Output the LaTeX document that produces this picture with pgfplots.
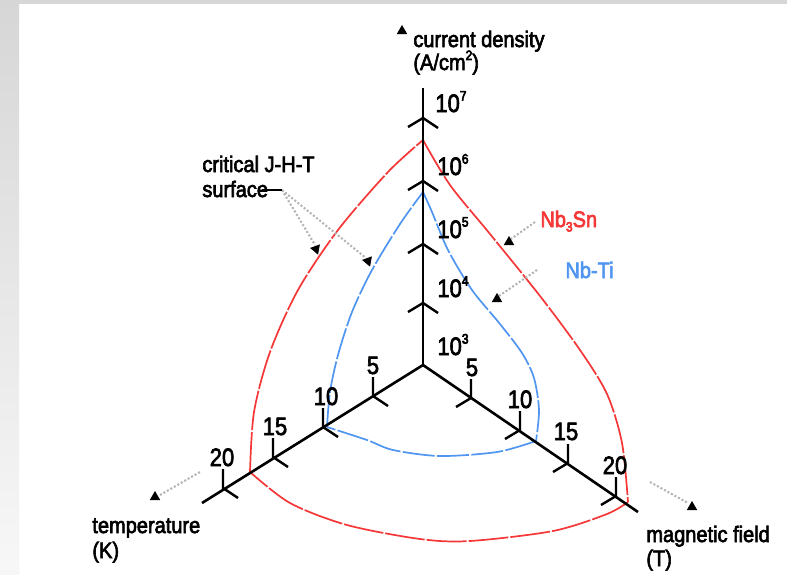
\documentclass[border=0pt]{standalone}
\usepackage{pgfplots}
\pgfplotsset{compat=1.18}
\usepackage{graphicx}
\usepackage{fontspec}
\setmainfont{Liberation Sans}
\definecolor{cred}{RGB}{245,55,55}
\definecolor{cblue}{RGB}{80,150,240}
\newcommand\thk[1]{\special{pdf:code q 2 Tr 0.3 w}#1\special{pdf:code Q}}
\newcommand\lab[1]{\scalebox{1}[1.12]{\fontsize{10}{12}\selectfont\thk{#1}}}
\newcommand\tk[1]{\scalebox{1}[1.15]{\fontsize{11}{12}\selectfont\thk{#1}}}
\newcommand\sups[1]{\raisebox{0.45em}{\fontsize{6}{7}\selectfont #1}}
\begin{document}
\begin{tikzpicture}
\begin{axis}[scale only axis, width=393.5pt, height=287pt,
  xmin=0, xmax=787, ymin=0, ymax=574, y dir=reverse,
  axis lines=none, clip=false]
% background
\fill[white] (rel axis cs:0,0) rectangle (rel axis cs:1,1);
\fill[top color=black!16, bottom color=black!3] (axis cs:0,0) rectangle (axis cs:19,574);
\fill[black!16] (axis cs:0,0) rectangle (axis cs:787,4);
% curves: Nb3Sn
\addplot[cred, line width=0.85pt, smooth, dash pattern=on 20pt off 1pt] coordinates {
(423,140) (450,185) (490,234) (540,296) (580,350) (607,394) (622,443) (628,502)};
\addplot[cred, line width=0.85pt, smooth, dash pattern=on 20pt off 1pt] coordinates {
(628,502) (607,514) (553,531) (470,541) (420,539) (347,525) (290,503) (250,472)};
\addplot[cred, line width=0.85pt, smooth, dash pattern=on 20pt off 1pt] coordinates {
(250,472) (254,412) (270,352) (298,290) (338,230) (388,172) (423,140)};
% Nb-Ti
\addplot[cblue, line width=0.85pt, smooth, dash pattern=on 16pt off 1.2pt] coordinates {
(423,192) (432,212) (448,250) (472,290) (500,324) (522,353) (534,378) (539,410) (536,441)};
\addplot[cblue, line width=0.85pt, smooth, dash pattern=on 16pt off 1.2pt] coordinates {
(536,441) (497,452) (440,456) (393,450) (367,440) (327,427)};
\addplot[cblue, line width=0.85pt, smooth, dash pattern=on 16pt off 1.2pt] coordinates {
(327,427) (330,392) (338,355) (352,312) (372,270) (400,224) (423,192)};
% axes
\addplot[black, line width=1.3pt] coordinates {(423,88) (423,365)};
\addplot[black, line width=1.3pt] coordinates {(423,365) (202,503)};
\addplot[black, line width=1.3pt] coordinates {(423,365) (638,512)};
% J ticks
\addplot[black, line width=1.2pt] coordinates {(408,127) (423,118) (438,128)};
\addplot[black, line width=1.2pt] coordinates {(408,190) (423,181) (438,191)};
\addplot[black, line width=1.2pt] coordinates {(408,253) (423,244) (438,254)};
\addplot[black, line width=1.2pt] coordinates {(408,312) (423,303) (438,313)};
% T ticks
\addplot[black, line width=1.2pt] coordinates {(373,377) (373,396) (388,406)};
\addplot[black, line width=1.2pt] coordinates {(323,408) (323,427) (338,437)};
\addplot[black, line width=1.2pt] coordinates {(273,438) (273,457) (288,467)};
\addplot[black, line width=1.2pt] coordinates {(223,469) (223,488) (238,498)};
% H ticks
\addplot[black, line width=1.2pt] coordinates {(471,379) (471,398) (456,407)};
\addplot[black, line width=1.2pt] coordinates {(520,411) (520,430) (505,439)};
\addplot[black, line width=1.2pt] coordinates {(568,444) (568,463) (553,472)};
\addplot[black, line width=1.2pt] coordinates {(616,477) (616,496) (601,505)};
% leaders
\addplot[black!30, line width=1pt, densely dotted] coordinates {(282,190) (315,245)};
\addplot[black!30, line width=1pt, densely dotted] coordinates {(282,190) (366,258)};
\addplot[black!30, line width=1pt, densely dotted] coordinates {(535,222) (511,239)};
\addplot[black!30, line width=1pt, densely dotted] coordinates {(537,270) (499,296)};
\addplot[black!30, line width=1pt, densely dotted] coordinates {(160,495) (200,472)};
\addplot[black!30, line width=1pt, densely dotted] coordinates {(650,482) (688,503)};
\addplot[black, line width=1pt] coordinates {(262,190) (282,190)};
% arrowheads
\addplot[only marks, mark=triangle*, mark size=2.6pt, black] coordinates {
(402,31) (155,497) (692,507) (509,242) (497,299)};
\addplot[only marks, mark=triangle*, mark size=2.6pt, black, mark options={rotate=200}] coordinates {
(316,249) (368,261)};
% texts
\node[anchor=base west, inner sep=0pt] at (axis cs:413,47) {\lab{current density}};
\node[anchor=base west, inner sep=0pt] at (axis cs:413,70) {\lab{(A/cm\sups{2})}};
\node[anchor=base west, inner sep=0pt] at (axis cs:92,533) {\lab{temperature}};
\node[anchor=base west, inner sep=0pt] at (axis cs:92,558) {\lab{(K)}};
\node[anchor=base west, inner sep=0pt] at (axis cs:646,542) {\lab{magnetic field}};
\node[anchor=base west, inner sep=0pt] at (axis cs:646,566) {\lab{(T)}};
\node[anchor=base west, inner sep=0pt] at (axis cs:202,172) {\lab{critical J-H-T}};
\node[anchor=base west, inner sep=0pt] at (axis cs:202,197) {\lab{surface}};
\node[anchor=base west, inner sep=0pt, text=cred] at (axis cs:540,227) {\lab{Nb\raisebox{-0.2em}{\fontsize{6}{7}\selectfont 3}Sn}};
\node[anchor=base west, inner sep=0pt, text=cblue] at (axis cs:565,278) {\lab{Nb-Ti}};
% J tick labels
\node[anchor=base west, inner sep=0pt] at (axis cs:435,112) {\tk{10\sups{7}}};
\node[anchor=base west, inner sep=0pt] at (axis cs:437,175) {\tk{10\sups{6}}};
\node[anchor=base west, inner sep=0pt] at (axis cs:437,238) {\tk{10\sups{5}}};
\node[anchor=base west, inner sep=0pt] at (axis cs:437,297) {\tk{10\sups{4}}};
\node[anchor=base west, inner sep=0pt] at (axis cs:437,355) {\tk{10\sups{3}}};
% T tick labels
\node[anchor=base, inner sep=0pt] at (axis cs:373,374) {\tk{5}};
\node[anchor=base, inner sep=0pt] at (axis cs:326,405) {\tk{10}};
\node[anchor=base, inner sep=0pt] at (axis cs:275,435) {\tk{15}};
\node[anchor=base, inner sep=0pt] at (axis cs:222,466) {\tk{20}};
% H tick labels
\node[anchor=base, inner sep=0pt] at (axis cs:472,376) {\tk{5}};
\node[anchor=base, inner sep=0pt] at (axis cs:520,408) {\tk{10}};
\node[anchor=base, inner sep=0pt] at (axis cs:566,440) {\tk{15}};
\node[anchor=base, inner sep=0pt] at (axis cs:615,474) {\tk{20}};
\end{axis}
\end{tikzpicture}
\end{document}
